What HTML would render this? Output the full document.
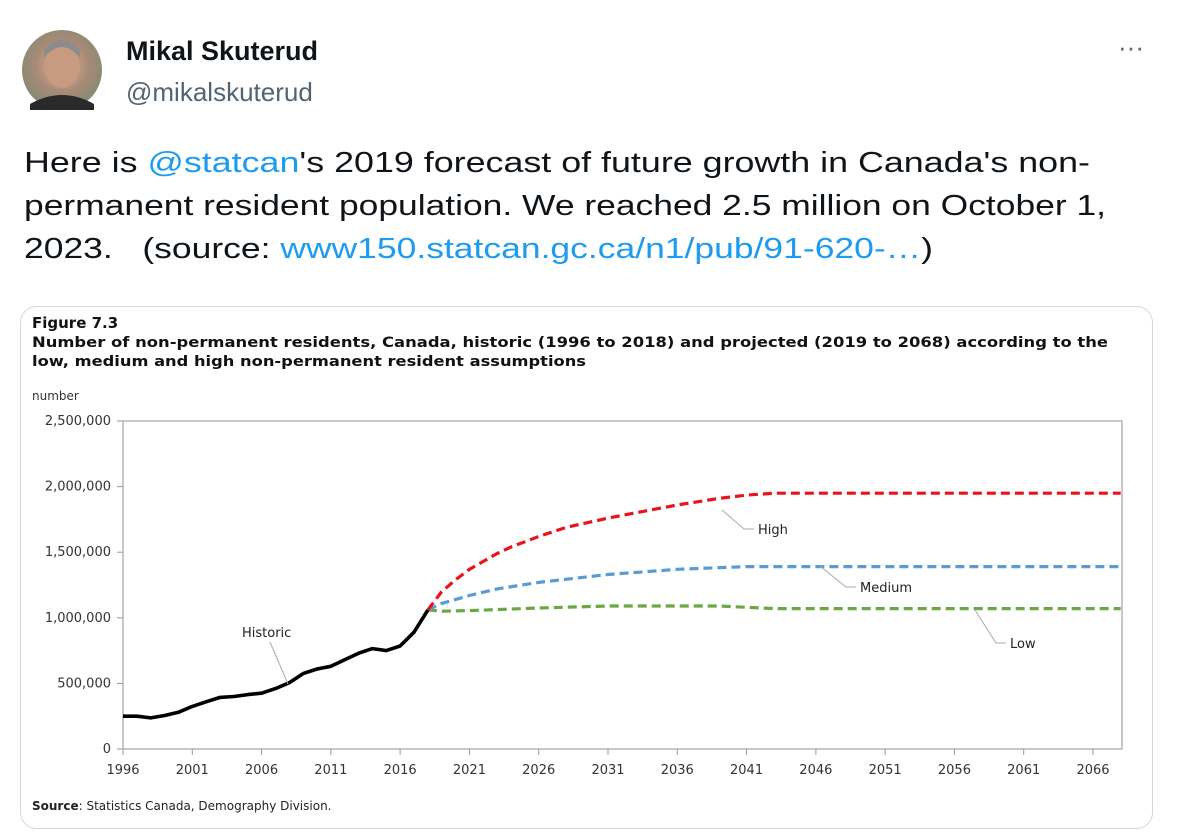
<!DOCTYPE html>
<html><head><meta charset="utf-8"><style>
html,body{margin:0;padding:0;background:#fff;}
svg{display:block;}
</style></head><body>
<svg id="root" width="1180" height="840" viewBox="0 0 1180 840" xmlns="http://www.w3.org/2000/svg">
<defs>
<radialGradient id="av" cx="50%" cy="45%" r="60%"><stop offset="0" stop-color="#d9b59a"/><stop offset="0.55" stop-color="#a88a76"/><stop offset="1" stop-color="#7d8a74"/></radialGradient>
</defs>
<g>
<circle cx="62" cy="70" r="40" fill="url(#av)"/>
<ellipse cx="62" cy="66" rx="18" ry="22" fill="#c89a80"/>
<path d="M44 58 Q62 36 80 58 L80 50 Q62 30 44 50Z" fill="#8c8c8c"/>
<path d="M30 104 Q62 86 94 104 L94 110 L30 110Z" fill="#2a2a2a"/>
</g>
<text x="126" y="60" font-family="Liberation Sans, sans-serif" font-weight="bold" font-size="27" fill="#0f1419">Mikal Skuterud</text>
<text x="126" y="101" font-family="Liberation Sans, sans-serif" font-size="26" fill="#536471">@mikalskuterud</text>
<text x="1118" y="56" font-family="Liberation Sans, sans-serif" font-size="26" fill="#536471">···</text>
<g font-family="Liberation Sans, sans-serif" font-size="29" fill="#0f1419">
<text x="24" y="172" textLength="1066" lengthAdjust="spacingAndGlyphs">Here is <tspan fill="#1d9bf0">@statcan</tspan>'s 2019 forecast of future growth in Canada's non-</text>
<text x="24" y="215" textLength="1082" lengthAdjust="spacingAndGlyphs">permanent resident population. We reached 2.5 million on October 1,</text>
<text x="24" y="258" textLength="909" lengthAdjust="spacingAndGlyphs">2023.&#160;&#160;&#160;(source: <tspan fill="#1d9bf0">www150.statcan.gc.ca/n1/pub/91-620-…</tspan>)</text>
</g>
<rect x="20.5" y="306.5" width="1132" height="522" rx="16" fill="#fff" stroke="#cfd9de"/>
<g font-family="DejaVu Sans, sans-serif" fill="#111">
<text x="32" y="328" font-size="15" font-weight="bold">Figure 7.3</text>
<text x="32" y="347" font-size="14.5" font-weight="bold" textLength="1076" lengthAdjust="spacingAndGlyphs">Number of non-permanent residents, Canada, historic (1996 to 2018) and projected (2019 to 2068) according to the</text>
<text x="32" y="366" font-size="14.5" font-weight="bold" textLength="554" lengthAdjust="spacingAndGlyphs">low, medium and high non-permanent resident assumptions</text>
<text x="32" y="400" font-size="12" fill="#333">number</text>
<text x="32" y="810" font-size="12" fill="#222"><tspan font-weight="bold">Source</tspan>: Statistics Canada, Demography Division.</text>
</g>
<g id="chart"></g>
</svg>
<script>
const histYears=[1996,1997,1998,1999,2000,2001,2002,2003,2004,2005,2006,2007,2008,2009,2010,2011,2012,2013,2014,2015,2016,2017,2018];
const histVals=[250000,250000,237000,255000,280000,325000,360000,393000,400000,415000,425000,460000,505000,575000,610000,630000,680000,730000,765000,750000,785000,890000,1060000];
const highYears=[2018,2019,2020,2021,2022,2023,2024,2026,2028,2031,2033,2036,2039,2041,2043,2068];
const highVals=[1060000,1200000,1290000,1370000,1430000,1490000,1540000,1620000,1690000,1760000,1800000,1860000,1910000,1935000,1950000,1950000];
const medYears=[2018,2019,2021,2023,2026,2031,2036,2041,2068];
const medVals=[1060000,1110000,1170000,1220000,1270000,1330000,1370000,1390000,1390000];
const lowYears=[2018,2019,2021,2026,2031,2036,2039,2041,2043,2068];
const lowVals=[1060000,1050000,1055000,1075000,1090000,1090000,1090000,1080000,1070000,1070000];
const yTicks=[0,500000,1000000,1500000,2000000,2500000];
const xTicks=[1996,2001,2006,2011,2016,2021,2026,2031,2036,2041,2046,2051,2056,2061,2066];

const NS="http://www.w3.org/2000/svg";
const g=document.getElementById('chart');
const L=123,R=1122,T=421,B=749;
const x=yr=>123+(yr-1996)*(1093-123)/70;
const y=v=>B-(v/2500000)*(B-T);
function el(tag,attrs,parent){const e=document.createElementNS(NS,tag);for(const k in attrs)e.setAttribute(k,attrs[k]);(parent||g).appendChild(e);return e;}

const frame=el('rect',{x:L,y:T,width:R-L,height:B-T,fill:'none',stroke:'#b5b5b5','stroke-width':1.5});


yTicks.forEach(v=>{
  const t=el('line',{x1:L-6,x2:L,y1:y(v),y2:y(v),stroke:'#999'});
  
  
  const lb=el('text',{x:L-12,y:y(v)+4,'text-anchor':'end','font-family':'DejaVu Sans, sans-serif','font-size':13,fill:'#333'});
  lb.textContent=v.toLocaleString('en-US');
  
  
});
xTicks.forEach(v=>{
  const t=el('line',{x1:x(v),x2:x(v),y1:B,y2:B+6,stroke:'#999'});
  
  
  const lb=el('text',{x:x(v),y:B+25,'text-anchor':'middle','font-family':'DejaVu Sans, sans-serif','font-size':13,fill:'#333'});
  lb.textContent=String(v);
  
  
});
function series(yrs,vals,color,dash,name,w){
  const d=yrs.map((yr,i)=>(i?'L':'M')+x(yr).toFixed(1)+' '+y(vals[i]).toFixed(1)).join(' ');
  const p=el('path',{d:d,fill:'none',stroke:color,'stroke-width':w,'stroke-linejoin':'round'});
  if(dash)p.setAttribute('stroke-dasharray',dash);
  
  
}
series(lowYears,lowVals,'#6aa842','9 5','series-low',3.2);
series(medYears,medVals,'#5b9bd5','9 5','series-medium',3.2);
series(highYears,highVals,'#e8141c','9 5','series-high',3.2);
series(histYears,histVals,'#000',null,'series-historic',3.6);

function label(txt,lx,ly,px,py,name){
  const ln=el('polyline',{points:`${px},${py} ${lx-14},${ly-5} ${lx-4},${ly-5}`,fill:'none',stroke:'#aaa'});
  
  
  const t=el('text',{x:lx,y:ly,'font-family':'DejaVu Sans, sans-serif','font-size':13,fill:'#222'});
  t.textContent=txt;
  
  
}
label('High',758,534,722,510,'label-high');
label('Medium',860,592,820,566,'label-medium');
label('Low',1010,648,975,610,'label-low');
const hl=el('line',{x1:288,y1:684,x2:270,y2:642,stroke:'#aaa'});


const ht=el('text',{x:242,y:637,'font-family':'DejaVu Sans, sans-serif','font-size':13,fill:'#222'});
ht.textContent='Historic';


</script>
</body></html>
